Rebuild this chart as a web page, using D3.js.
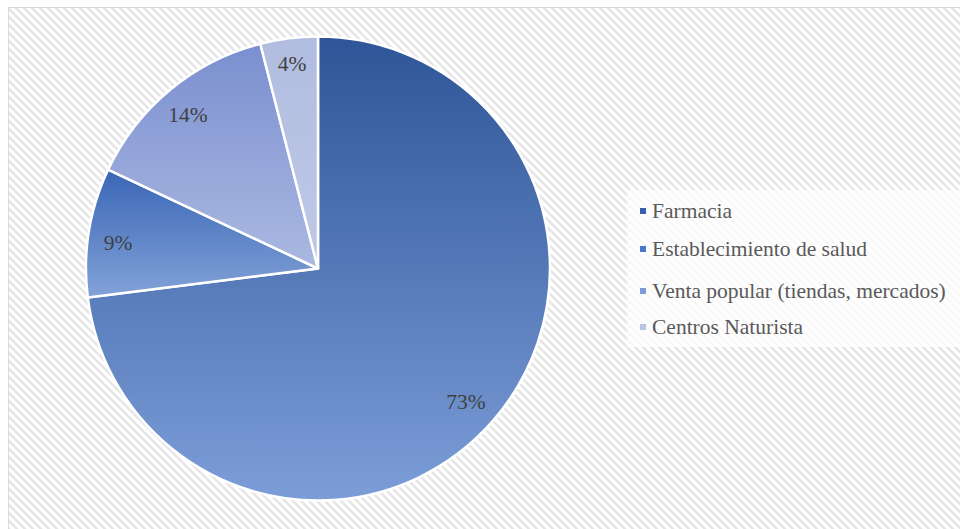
<!DOCTYPE html>
<html><head><meta charset="utf-8">
<script src="https://cdn.jsdelivr.net/npm/d3@7/dist/d3.min.js"></script>
<style>html,body{margin:0;padding:0;background:#fff;}svg{display:block;}
text{font-family:"Liberation Serif","Times New Roman",Times,"DejaVu Serif",serif;}</style>
</head><body>
<svg id="chart" width="960" height="529"></svg>
<script>
const categories = ["Farmacia", "Establecimiento de salud", "Venta popular (tiendas, mercados)", "Centros Naturista"];
const values = [73, 9, 14, 4];
const labels = ["73%", "9%", "14%", "4%"];
const gradTop = ["#2e5597", "#3a66b6", "#7a8fd0", "#b1bde0"];
const gradBottom = ["#7c9dd8", "#82a2d8", "#abb9e1", "#bfc8e6"];
const markerColors = ["#3a5fa8", "#4a78c8", "#8099d8", "#b8c4e4"];

const svg = d3.select("#chart");
const W = 960, H = 529;
const defs = svg.append("defs");

const pat = defs.append("pattern").attr("id", "hatch").attr("patternUnits", "userSpaceOnUse")
  .attr("width", 8).attr("height", 8);
pat.append("rect").attr("width", 8).attr("height", 8).attr("fill", "#ffffff");
pat.append("path").attr("d", "M-2,-2 L10,10 M-2,6 L2,10 M6,-2 L10,2")
  .attr("stroke", "#e6e6e6").attr("stroke-width", 2.4);

svg.append("rect").attr("x", 0).attr("y", 0).attr("width", W).attr("height", H).attr("fill", "#fff");
svg.append("rect").attr("x", 8.5).attr("y", 7.5).attr("width", W).attr("height", H)
  .attr("fill", "url(#hatch)").attr("stroke", "#d9d9d9").attr("stroke-width", 1);

values.forEach((v, i) => {
  const g = defs.append("linearGradient").attr("id", "g" + i)
    .attr("x1", 0).attr("y1", 0).attr("x2", 0).attr("y2", 1);
  g.append("stop").attr("offset", "0%").attr("stop-color", gradTop[i]);
  g.append("stop").attr("offset", "100%").attr("stop-color", gradBottom[i]);
});

const cx = 318, cy = 268.5, r = 232;
const pie = d3.pie().sort(null).value(d => d)(values);
const arc = d3.arc().innerRadius(0).outerRadius(r);
const gPie = svg.append("g").attr("transform", `translate(${cx},${cy})`);
gPie.selectAll("path").data(pie).join("path")
  .attr("d", arc).attr("fill", (d, i) => `url(#g${i})`)
  .attr("stroke", "#fff").attr("stroke-width", 2.5).attr("stroke-linejoin", "round");

const labelPos = [[148, 133.5], [-200, -26], [-130, -154], [-26, -204.5]];
gPie.selectAll("text.lbl").data(pie).join("text").attr("class", "lbl")
  .attr("x", (d, i) => labelPos[i][0]).attr("y", (d, i) => labelPos[i][1])
  .attr("text-anchor", "middle").attr("dominant-baseline", "central")
  .style("font-size", "21.5px")
  .attr("fill", "#404040").text((d, i) => labels[i]);

// legend
svg.append("rect").attr("x", 627).attr("y", 190).attr("width", 333).attr("height", 157)
  .attr("fill", "#ffffff").attr("fill-opacity", 0.7);
const legY = [211, 249, 291, 327];
const leg = svg.append("g");
categories.forEach((c, i) => {
  leg.append("rect").attr("x", 640).attr("y", legY[i] - 3).attr("width", 6).attr("height", 6)
    .attr("fill", markerColors[i]);
  leg.append("text").attr("x", 652).attr("y", legY[i]).attr("dominant-baseline", "central")
    .style("font-size", "21.5px")
    .attr("fill", "#595959").text(c);
});
</script>
</body></html>
